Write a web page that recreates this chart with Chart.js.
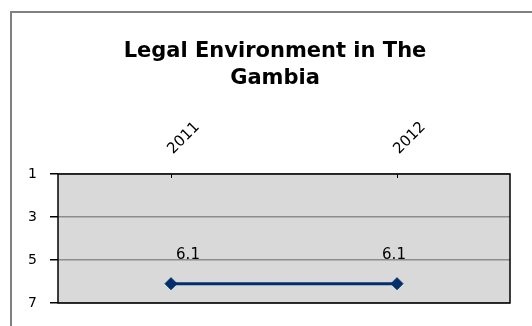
<!DOCTYPE html>
<html>
<head>
<meta charset="utf-8">
<script src="https://cdn.jsdelivr.net/npm/chart.js@4/dist/chart.umd.min.js"></script>
<style>
  html, body { margin: 0; padding: 0; background: #ffffff; }
  canvas { display: block; }
</style>
</head>
<body>
<canvas id="chart" width="532" height="326"></canvas>
<script>
// Legal environment scores by year (lower is better, axis reversed)
const years = ['2011', '2012'];
const scores = [6.1, 6.1];
const yTickValues = [1, 3, 5, 7];
const titleLines = ['Legal Environment in The', 'Gambia'];

const FONT = "'DejaVu Sans', 'Open Sans', sans-serif";
const TITLE_SIZE = 21;
const TITLE_LINE = 1.3;
const TITLE_TOP = 38;
const PLOT_TOP = 174;
const FRAME = { x: 11, y: 12 };

// Grey plot panel, frame around the figure, and black plot border
const framePlugin = {
  id: 'frame',
  afterLayout(chart) {
    // centre the title within the outer frame rather than the canvas
    const t = chart.titleBlock;
    if (t) t.left = 2 * FRAME.x + 18;
  },
  beforeDraw(chart) {
    const { ctx, chartArea: a } = chart;
    ctx.save();
    ctx.fillStyle = '#d9d9d9';
    ctx.fillRect(a.left, a.top, a.right - a.left, a.bottom - a.top);
    ctx.strokeStyle = '#808080';
    ctx.lineWidth = 2;
    ctx.strokeRect(FRAME.x, FRAME.y, 540, 340);
    ctx.restore();
  },
  afterDatasetsDraw(chart) {
    const { ctx, chartArea: a } = chart;
    ctx.save();
    ctx.strokeStyle = '#000000';
    ctx.lineWidth = 1.5;
    ctx.strokeRect(a.left, a.top, a.right - a.left, a.bottom - a.top);
    ctx.restore();
  }
};

// Value labels above each point
const valueLabelPlugin = {
  id: 'valueLabels',
  afterDatasetsDraw(chart, args, opts) {
    const { ctx } = chart;
    const meta = chart.getDatasetMeta(0);
    ctx.save();
    ctx.font = '15px ' + FONT;
    ctx.fillStyle = '#000000';
    ctx.textAlign = 'center';
    ctx.textBaseline = 'alphabetic';
    meta.data.forEach((pt, i) => {
      const dx = (opts.shift && opts.shift[i]) || 0;
      ctx.fillText(String(scores[i]), pt.x + dx, pt.y - opts.rise);
    });
    ctx.restore();
  }
};

new Chart(document.getElementById('chart'), {
  type: 'line',
  data: {
    labels: years,
    datasets: [{
      data: scores,
      borderColor: '#002f6c',
      backgroundColor: '#002f6c',
      borderWidth: 3,
      pointStyle: 'rectRot',
      pointRadius: 6,
      pointBorderWidth: 1,
      pointBackgroundColor: '#002f6c',
      pointBorderColor: '#002f6c',
      tension: 0
    }]
  },
  options: {
    responsive: false,
    animation: false,
    devicePixelRatio: 1,
    layout: { padding: { left: 0, top: 0, right: 22, bottom: 23 } },
    plugins: {
      legend: { display: false },
      tooltip: { enabled: false },
      title: {
        display: true,
        text: titleLines,
        color: '#000000',
        font: { family: FONT, size: TITLE_SIZE, weight: 'bold', lineHeight: TITLE_LINE },
        padding: { top: TITLE_TOP, bottom: 0 }
      },
      valueLabels: { rise: 25, shift: [17, -3] }
    },
    scales: {
      x: {
        type: 'category',
        position: 'top',
        offset: true,
        afterFit(scale) { scale.height = PLOT_TOP - TITLE_TOP - 2 * TITLE_SIZE * TITLE_LINE; },
        border: { display: false },
        grid: {
          offset: false,
          drawOnChartArea: false,
          drawTicks: true,
          tickLength: -4,
          color: '#000000',
          lineWidth: 1
        },
        ticks: {
          minRotation: 45,
          maxRotation: 45,
          padding: 20,
          labelOffset: 12,
          color: '#000000',
          font: { family: FONT, size: 15 }
        }
      },
      y: {
        type: 'linear',
        reverse: true,
        min: 1,
        max: 7,
        afterFit(scale) { scale.width = 58; },
        afterBuildTicks(scale) { scale.ticks = yTickValues.map(v => ({ value: v })); },
        border: { display: false },
        grid: {
          color: '#8c8c8c',
          tickColor: '#000000',
          lineWidth: 1.5,
          tickLength: 8
        },
        ticks: {
          padding: 13,
          color: '#000000',
          font: { family: FONT, size: 14 }
        }
      }
    }
  },
  plugins: [framePlugin, valueLabelPlugin]
});
</script>
</body>
</html>
